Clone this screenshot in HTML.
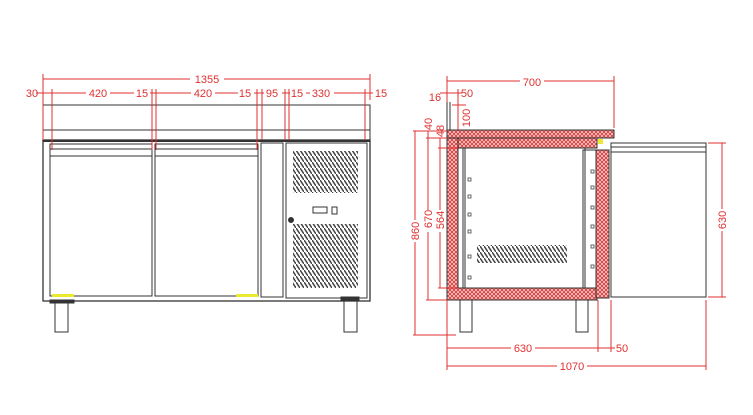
<!DOCTYPE html>
<html><head><meta charset="utf-8"><style>
html,body{margin:0;padding:0;background:#fff;}
svg{display:block;}
text{font-family:"Liberation Sans",sans-serif;font-size:11px;fill:#e03030;}
</style></head><body>
<svg width="753" height="415" viewBox="0 0 753 415" xmlns="http://www.w3.org/2000/svg">
<defs>
<pattern id="h" width="4" height="4" patternUnits="userSpaceOnUse">
<rect width="4" height="4" fill="#f8d0d0"/>
<path d="M0 0L4 4M4 0L0 4" stroke="#d83838" stroke-width="0.9"/>
</pattern>
<pattern id="g" width="4" height="6" patternUnits="userSpaceOnUse">
<path d="M0 0L4 6" stroke="#444" stroke-width="1.5"/>
</pattern>
</defs>
<g fill="none" stroke="#333" stroke-width="1">
<rect x="43" y="105" width="327" height="35"/>
<line x1="43" y1="130" x2="370" y2="130"/>
<rect x="43" y="140" width="327" height="161" stroke-width="1.3"/>
<line x1="43" y1="141" x2="370" y2="141" stroke-width="2"/>
<rect x="50" y="144" width="102" height="152"/>
<line x1="50" y1="149" x2="152" y2="149"/><line x1="50" y1="156" x2="152" y2="156"/>
<rect x="155" y="144" width="103" height="152"/>
<line x1="155" y1="149" x2="258" y2="149"/><line x1="155" y1="156" x2="258" y2="156"/>
<rect x="261" y="143" width="22" height="154"/>
<rect x="286" y="143" width="81" height="155"/>
<rect x="293" y="151" width="65" height="42" fill="url(#g)" stroke="none"/>
<rect x="293" y="224" width="65" height="64" fill="url(#g)" stroke="none"/>
<rect x="313" y="207" width="14" height="6"/><rect x="332" y="207" width="5" height="7"/>
<circle cx="291" cy="220" r="2.5" fill="#333"/>
<rect x="55" y="301" width="13" height="31"/><rect x="50" y="300" width="24" height="3" fill="#333"/>
<rect x="344" y="301" width="13" height="31"/><rect x="341" y="297" width="18" height="4" fill="#333"/>
</g>
<rect x="52" y="294" width="22" height="3" fill="#eaea30"/>
<rect x="236" y="294" width="22" height="3" fill="#eaea30"/>
<g stroke="#e03030" stroke-width="1" fill="none">
<line x1="43" y1="79" x2="370" y2="79"/>
<line x1="43" y1="74" x2="43" y2="140"/><line x1="370" y1="74" x2="370" y2="100"/>
<line x1="36" y1="93" x2="380" y2="93"/>
<line x1="52" y1="89" x2="52" y2="150"/><line x1="152" y1="89" x2="152" y2="150"/>
<line x1="156" y1="89" x2="156" y2="150"/><line x1="257" y1="89" x2="257" y2="150"/>
<line x1="262" y1="89" x2="262" y2="140"/><line x1="285" y1="89" x2="285" y2="140"/>
<line x1="289" y1="89" x2="289" y2="140"/><line x1="365" y1="89" x2="365" y2="140"/>
</g>
<g text-anchor="middle">
<rect x="190" y="73" width="34" height="10" fill="#fff"/><text x="207" y="83">1355</text>
<text x="32" y="97">30</text>
<rect x="86" y="88" width="24" height="10" fill="#fff"/><text x="98" y="97">420</text>
<rect x="134" y="88" width="16" height="10" fill="#fff"/><text x="142" y="97">15</text>
<rect x="191" y="88" width="24" height="10" fill="#fff"/><text x="203" y="97">420</text>
<rect x="238" y="88" width="16" height="10" fill="#fff"/><text x="245" y="97">15</text>
<rect x="264" y="88" width="18" height="10" fill="#fff"/><text x="272" y="97">95</text>
<rect x="290" y="88" width="16" height="10" fill="#fff"/><text x="297" y="97">15</text>
<rect x="310" y="88" width="24" height="10" fill="#fff"/><text x="321" y="97">330</text>
<rect x="373" y="88" width="16" height="10" fill="#fff"/><text x="381" y="97">15</text>
</g>
<g stroke="#333" stroke-width="1">
<rect x="447" y="130" width="167" height="8" fill="url(#h)"/>
<rect x="447" y="138" width="150" height="10" fill="url(#h)"/>
<rect x="447" y="138" width="11" height="162" fill="url(#h)"/>
<rect x="447" y="288" width="150" height="12" fill="url(#h)"/>
<rect x="596" y="150" width="13" height="148" fill="url(#h)"/>
<rect x="458" y="148" width="127" height="140" fill="#fff"/>
<rect x="463" y="148" width="2" height="140" fill="none"/>
<rect x="583" y="150" width="13" height="138" fill="none"/>
<line x1="447" y1="102" x2="447" y2="130"/><line x1="450" y1="102" x2="450" y2="130"/>
<rect x="611" y="143" width="95" height="154" fill="none"/>
<line x1="611" y1="147" x2="706" y2="147"/><line x1="611" y1="152" x2="706" y2="152"/>
<rect x="460" y="300" width="12" height="32" fill="none"/>
<rect x="576" y="300" width="12" height="32" fill="none"/>
</g>
<rect x="477" y="245" width="90" height="18" fill="url(#g)"/>
<g fill="none" stroke="#444" stroke-width="0.8">
<rect x="468" y="178" width="3" height="3"/><rect x="468" y="195" width="3" height="3"/><rect x="468" y="213" width="3" height="3"/><rect x="468" y="230" width="3" height="3"/><rect x="468" y="255" width="3" height="3"/><rect x="468" y="276" width="3" height="3"/>
<rect x="591" y="170" width="3" height="3"/><rect x="591" y="186" width="3" height="3"/><rect x="591" y="206" width="3" height="3"/><rect x="591" y="225" width="3" height="3"/><rect x="591" y="245" width="3" height="3"/><rect x="591" y="265" width="3" height="3"/>
</g>
<rect x="598" y="139" width="5" height="5" fill="#eaea30"/>
<g stroke="#e03030" stroke-width="1" fill="none">
<line x1="447" y1="81" x2="614" y2="81"/><line x1="447" y1="76" x2="447" y2="102"/><line x1="614" y1="76" x2="614" y2="128"/>
<line x1="440" y1="93" x2="462" y2="93"/><line x1="458" y1="89" x2="458" y2="130"/>
<line x1="452" y1="105" x2="466" y2="105"/>
<line x1="413" y1="131" x2="447" y2="131"/><line x1="415" y1="131" x2="415" y2="335"/><line x1="413" y1="335" x2="456" y2="335"/>
<line x1="428" y1="131" x2="428" y2="300"/><line x1="426" y1="300" x2="447" y2="300"/>
<line x1="440" y1="138" x2="440" y2="288"/><line x1="438" y1="288" x2="458" y2="288"/>
<line x1="426" y1="138" x2="447" y2="138"/><line x1="438" y1="148" x2="458" y2="148"/>
<line x1="722" y1="143" x2="722" y2="297"/><line x1="708" y1="143" x2="726" y2="143"/><line x1="708" y1="297" x2="726" y2="297"/>
<line x1="447" y1="348" x2="598" y2="348"/><line x1="598" y1="348" x2="615" y2="348"/>
<line x1="447" y1="300" x2="447" y2="370"/><line x1="598" y1="300" x2="598" y2="352"/><line x1="611" y1="300" x2="611" y2="352"/>
<line x1="447" y1="366" x2="706" y2="366"/><line x1="706" y1="300" x2="706" y2="370"/>
</g>
<g text-anchor="middle">
<rect x="520" y="76" width="24" height="10" fill="#fff"/><text x="532" y="86">700</text>
<text x="435" y="101">16</text><text x="467" y="97">50</text>
<text x="0" y="0" transform="translate(470,118) rotate(-90)">100</text>
<text x="0" y="0" transform="translate(432,124) rotate(-90)">40</text>
<text x="0" y="0" transform="translate(444,131) rotate(-90)">48</text>
<rect x="410" y="220" width="10" height="22" fill="#fff"/><text x="0" y="0" transform="translate(419,231) rotate(-90)">860</text>
<rect x="423" y="210" width="10" height="22" fill="#fff"/><text x="0" y="0" transform="translate(432,219) rotate(-90)">670</text>
<rect x="435" y="210" width="10" height="22" fill="#fff"/><text x="0" y="0" transform="translate(444,220) rotate(-90)">564</text>
<rect x="717" y="209" width="10" height="22" fill="#fff"/><text x="0" y="0" transform="translate(726,220) rotate(-90)">630</text>
<rect x="511" y="343" width="24" height="10" fill="#fff"/><text x="523" y="352">630</text>
<text x="622" y="352">50</text>
<rect x="557" y="361" width="30" height="10" fill="#fff"/><text x="572" y="370">1070</text>
</g>
</svg>
</body></html>
